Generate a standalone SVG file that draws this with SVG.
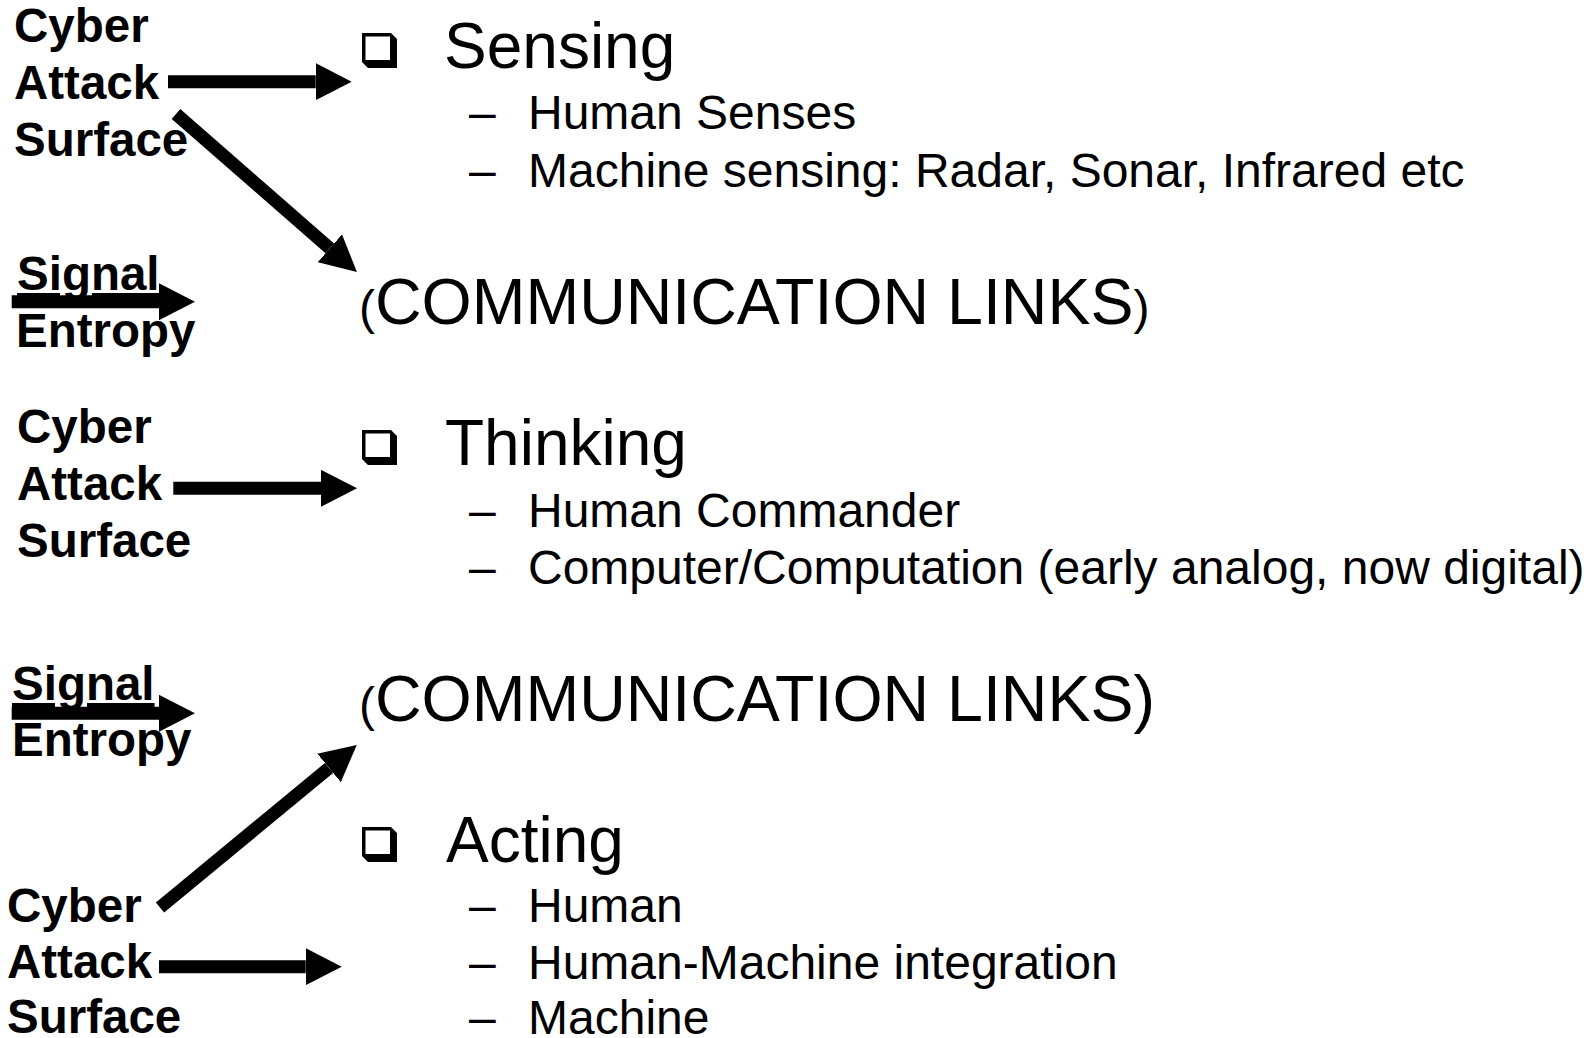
<svg xmlns="http://www.w3.org/2000/svg" width="1587" height="1038" viewBox="0 0 1587 1038">
<style>
.lbl{font-family:"Liberation Sans",Arial,sans-serif;font-weight:bold;font-size:47.5px;fill:#000}
.h{font-family:"Liberation Sans",Arial,sans-serif;font-size:64px;fill:#000}
.c{font-family:"Liberation Sans",Arial,sans-serif;font-size:64.5px;fill:#000}
.s{font-family:"Liberation Sans",Arial,sans-serif;font-size:48px;fill:#000}
.sm{font-size:48px}
.arr{stroke:#000;stroke-width:13;fill:none;marker-end:url(#head)}
</style>
<defs>
<marker id="head" markerUnits="userSpaceOnUse" markerWidth="36" markerHeight="37" viewBox="0 0 36 37" refX="0" refY="18.5" orient="auto">
<path d="M0,0 L36,18.5 L0,37 Z" fill="#000"/>
</marker>
<path id="box" d="M0,0 H29 L35,6 V35 H6 L0,29 Z M3.5,3.5 V27 H28 V3.5 Z" fill="#000" fill-rule="evenodd"/>
</defs>
<rect width="1587" height="1038" fill="#fff"/>

<g id="connectors">
<line class="arr" x1="168" y1="81.7" x2="315.7" y2="81.7"/>
<line class="arr" x1="176" y1="114" x2="329.8" y2="248.3"/>
<line class="arr" x1="11.7" y1="301.7" x2="159" y2="301.7"/>
<line class="arr" x1="173.3" y1="488.3" x2="321" y2="488.3"/>
<line class="arr" x1="11.7" y1="713.3" x2="159" y2="713.3"/>
<line class="arr" x1="160" y1="907.5" x2="329" y2="767.9"/>
<line class="arr" x1="159" y1="966.7" x2="305.7" y2="966.7"/>
</g>

<g id="label-cyber-1">
<text class="lbl" x="14" y="42">Cyber</text>
<text class="lbl" x="14" y="99">Attack</text>
<text class="lbl" x="14" y="156">Surface</text>
</g>
<g id="label-signal-1">
<text class="lbl" x="17" y="290" text-decoration="underline">Signal</text>
<text class="lbl" x="16" y="347">Entropy</text>
</g>
<g id="label-cyber-2">
<text class="lbl" x="17" y="443">Cyber</text>
<text class="lbl" x="17" y="500">Attack</text>
<text class="lbl" x="17" y="557">Surface</text>
</g>
<g id="label-signal-2">
<text class="lbl" x="12" y="700" text-decoration="underline">Signal</text>
<text class="lbl" x="12" y="756">Entropy</text>
</g>
<g id="label-cyber-3">
<text class="lbl" x="7" y="922">Cyber</text>
<text class="lbl" x="7" y="978">Attack</text>
<text class="lbl" x="7" y="1033">Surface</text>
</g>

<g id="sensing">
<use href="#box" x="362" y="33"/>
<text class="h" x="444" y="68">Sensing</text>
<text class="s" x="469" y="129">–</text>
<text class="s" x="528" y="129">Human Senses</text>
<text class="s" x="469" y="187">–</text>
<text class="s" x="528" y="187">Machine sensing: Radar, Sonar, Infrared etc</text>
</g>

<g id="comm-links-1">
<text class="c" x="359" y="324"><tspan class="sm">(</tspan>COMMUNICATION LINKS<tspan class="sm">)</tspan></text>
</g>

<g id="thinking">
<use href="#box" x="362" y="430"/>
<text class="h" x="445" y="465">Thinking</text>
<text class="s" x="469" y="527">–</text>
<text class="s" x="528" y="527">Human Commander</text>
<text class="s" x="469" y="584">–</text>
<text class="s" x="528" y="584">Computer/Computation (early analog, now digital)</text>
</g>

<g id="comm-links-2">
<text class="c" x="359" y="721"><tspan class="sm">(</tspan>COMMUNICATION LINKS)</text>
</g>

<g id="acting">
<use href="#box" x="362" y="827"/>
<text class="h" x="446" y="862">Acting</text>
<text class="s" x="469" y="922">–</text>
<text class="s" x="528" y="922">Human</text>
<text class="s" x="469" y="979">–</text>
<text class="s" x="528" y="979">Human-Machine integration</text>
<text class="s" x="469" y="1034">–</text>
<text class="s" x="528" y="1034">Machine</text>
</g>
</svg>
